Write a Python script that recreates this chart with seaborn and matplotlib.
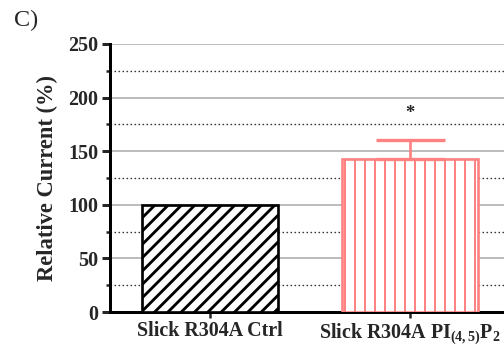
import matplotlib
matplotlib.use("Agg")
import matplotlib.pyplot as plt
import seaborn as sns
import pandas as pd
from matplotlib.ticker import MultipleLocator

# Data
categories = ["Slick R304A Ctrl", "Slick R304A PI$_{(4,5)}$P$_{2}$"]
values = [100, 143]
err_upper = [0, 17]
star_level = 185
y_ticks = [0, 50, 100, 150, 200, 250]

sns.set_style("white")
plt.rcParams["font.family"] = ["Liberation Serif", "DejaVu Serif"]
plt.rcParams["mathtext.fontset"] = "custom"
plt.rcParams["mathtext.rm"] = "Liberation Serif:bold"
plt.rcParams["mathtext.it"] = "Liberation Serif:bold"
plt.rcParams["mathtext.bf"] = "Liberation Serif:bold"
plt.rcParams["hatch.linewidth"] = 1.6

pink = "#FF8282"
df = pd.DataFrame({"group": categories, "current": values})

fig = plt.figure(figsize=(4.2, 349 / 120), dpi=120)
ax = fig.add_axes([0.218, 0.106, 0.782, 0.768])

sns.barplot(data=df, x="group", y="current", ax=ax, width=0.68,
            errorbar=None, color="white", zorder=3)

styles = [("black", "///", 1.7), (pink, "||", 1.2)]
for patch, (col, hatch, hlw) in zip(ax.patches, styles):
    patch.set_facecolor("white")
    patch.set_edgecolor(col)
    patch.set_hatch(hatch)
    patch.set_linewidth(1.6)
    if hasattr(patch, "set_hatch_linewidth"):
        patch.set_hatch_linewidth(hlw)

# upward-only error bar on the treated group
ax.errorbar(1, values[1], yerr=[[0], [err_upper[1]]], fmt="none",
            ecolor=pink, elinewidth=1.6, capsize=20.7, capthick=2.0, zorder=4)
ax.text(1, star_level, "*", ha="center", va="center", fontsize=11,
        fontweight="bold", color="#222222")

# grid: solid majors, dotted minors
ax.set_ylim(0, 250)
ax.set_xlim(-0.5, 1.47)
ax.set_yticks(y_ticks)
ax.yaxis.set_minor_locator(MultipleLocator(25))
ax.grid(axis="y", which="major", color="#a8a8a8", linewidth=0.9, zorder=0)
ax.grid(axis="y", which="minor", color="#333333", linewidth=0.8,
        linestyle=(0, (1.2, 1.8)), zorder=0)
ax.grid(axis="x", visible=False)
ax.set_axisbelow(True)

for side in ("top", "right"):
    ax.spines[side].set_visible(False)
for side in ("left", "bottom"):
    ax.spines[side].set_linewidth(1.8)
    ax.spines[side].set_color("black")

ax.tick_params(axis="y", which="major", direction="out", length=5, width=1.8,
               left=True, labelsize=12, pad=2)
ax.tick_params(axis="y", which="minor", direction="out", length=2.5, width=1.5,
               left=True)
ax.tick_params(axis="x", which="major", direction="out", length=3.5, width=1.5,
               bottom=True, labelsize=12, pad=2)
for lab in ax.get_yticklabels() + ax.get_xticklabels():
    lab.set_fontweight("bold")

ax.set_xlabel("")
ax.set_ylabel("Relative Current (%)", fontsize=13.5, fontweight="bold",
              labelpad=6)

fig.text(0.028, 0.94, "C)", fontsize=14.5, ha="left", va="center")

fig.savefig("out.png", dpi=120)
